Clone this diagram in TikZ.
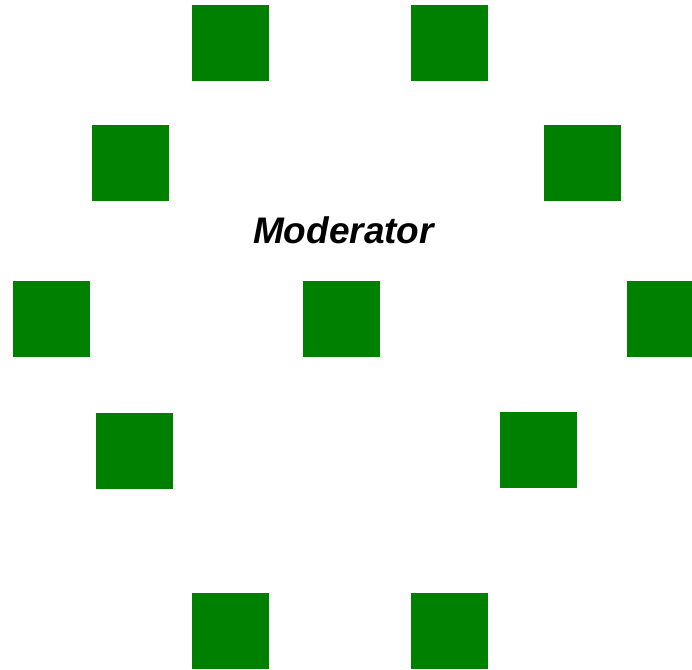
\documentclass[tikz,border=0pt]{standalone}
\usepackage{fontspec}
\setmainfont{Liberation Sans}
\definecolor{sqgreen}{HTML}{008000}
\begin{document}
\begin{tikzpicture}[x=1pt,y=-1pt,
  sq/.style={fill=sqgreen,draw=none,inner sep=0pt,minimum width=77pt,minimum height=76pt}]
\useasboundingbox (0,0) rectangle (692,669);
\node[sq] (s1) at (230.5,43) {};
\node[sq] (s2) at (449.5,43) {};
\node[sq] (s3) at (130.5,163) {};
\node[sq] (s4) at (582.5,163) {};
\node[sq] (s5) at (51.5,319) {};
\node[sq] (s6) at (341.5,319) {};
\node[sq] (s7) at (665.5,319) {};
\node[sq] (s8) at (134.5,451) {};
\node[sq] (s9) at (538.5,450) {};
\node[sq] (s10) at (230.5,630.5) {};
\node[sq] (s11) at (449.5,630.5) {};
\node[anchor=base,inner sep=0pt,font=\fontsize{37}{40}\selectfont\bfseries\itshape] (mod) at (343.5,243) {Moderator};
\end{tikzpicture}
\end{document}
